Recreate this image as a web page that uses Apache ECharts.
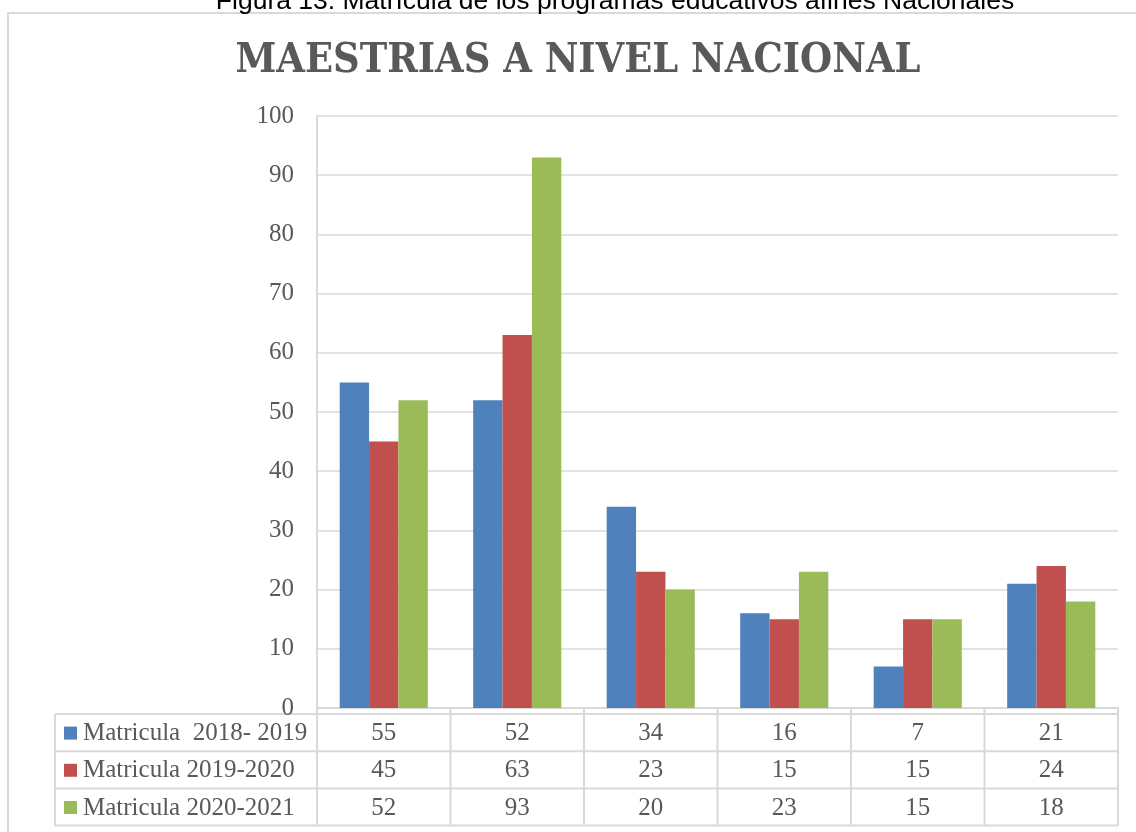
<!DOCTYPE html>
<html>
<head>
<meta charset="utf-8">
<script src="https://cdn.jsdelivr.net/npm/echarts@6/dist/echarts.min.js"></script>
<style>
  html, body { margin: 0; padding: 0; background: #fff; }
  #main { width: 1136px; height: 832px; }
</style>
</head>
<body>
<div id="main"></div>
<script>
// 数据
const categories = ['1', '2', '3', '4', '5', '6']
const seriesNames = ['Matricula  2018- 2019', 'Matricula 2019-2020', 'Matricula 2020-2021']
const m2018 = [55, 52, 34, 16, 7, 21]
const m2019 = [45, 63, 23, 15, 15, 24]
const m2020 = [52, 93, 20, 23, 15, 18]
const yTicks = [0, 10, 20, 30, 40, 50, 60, 70, 80, 90, 100]

const seriesData = [m2018, m2019, m2020]
const colors = ['#4F81BD', '#C0504D', '#9BBB59']
const textColor = '#595959'
const lineColor = '#d9d9d9'
const serif = '"Liberation Serif", "DejaVu Serif", serif'
const titleFont = '"DejaVu Serif Condensed", "DejaVu Serif", serif'

const myChart = echarts.init(document.querySelector('#main'))

const option = {
  animation: false,
  grid: {
    left: 317,
    right: 18,
    top: 116,
    bottom: 124
  },
  xAxis: {
    type: 'category',
    data: categories,
    axisLine: { lineStyle: { color: lineColor, width: 2 } },
    axisTick: { show: false },
    axisLabel: { show: false }
  },
  yAxis: {
    type: 'value',
    min: yTicks[0],
    max: yTicks[yTicks.length - 1],
    interval: yTicks[1] - yTicks[0],
    axisLine: { show: true, lineStyle: { color: lineColor, width: 2 } },
    axisTick: { show: false },
    splitLine: { lineStyle: { color: lineColor, width: 1.5 } },
    axisLabel: {
      color: textColor,
      fontFamily: serif,
      fontSize: 25,
      margin: 23
    }
  },
  series: seriesData.map((data, i) => ({
    name: seriesNames[i],
    type: 'bar',
    data: data,
    barGap: 0,
    barCategoryGap: '34%',
    itemStyle: { color: colors[i] }
  }))
}

myChart.setOption(option)

// 画标题、外框和下方数据表
function drawTable() {
  const axisY = myChart.convertToPixel({ yAxisIndex: 0 }, 0)
  const c0 = myChart.convertToPixel({ xAxisIndex: 0 }, 0)
  const c1 = myChart.convertToPixel({ xAxisIndex: 0 }, 1)
  const band = c1 - c0
  const plotLeft = c0 - band / 2
  const plotRight = plotLeft + band * categories.length
  const tableLeft = 55
  const headTop = axisY
  const rowTop = axisY + 6
  const rowH = 37.2
  const tableBottom = rowTop + rowH * seriesNames.length

  const els = []
  const line = (x1, y1, x2, y2) => els.push({
    type: 'line',
    shape: { x1, y1, x2, y2 },
    style: { stroke: lineColor, lineWidth: 2 },
    silent: true
  })
  const text = (str, x, y, align, opts = {}) => els.push({
    type: 'text',
    style: Object.assign({
      text: str, x, y,
      font: '25px ' + serif,
      fill: textColor,
      align: align, textAlign: align,
      verticalAlign: 'middle', textVerticalAlign: 'middle'
    }, opts),
    silent: true
  })

  // 外框
  els.push({
    type: 'rect',
    shape: { x: 8, y: 13, width: 1140, height: 830 },
    style: { fill: null, stroke: lineColor, lineWidth: 2 },
    silent: true
  })
  // 顶部说明（被截掉一半）
  text('Figura 13. Matrícula de los programas educativos afines Nacionales', 615, 1.5, 'center', {
    font: '26.5px "Liberation Sans", Arial, sans-serif', fill: '#000'
  })
  // 图表标题
  text('MAESTRIAS A NIVEL NACIONAL', 578, 61, 'center', {
    font: 'bold 41px ' + titleFont, fill: textColor
  })

  // 表格横线
  line(plotLeft, headTop, plotRight, headTop)
  for (let r = 0; r <= seriesNames.length; r++) {
    const y = rowTop + rowH * r
    line(tableLeft, y, plotRight, y)
  }
  // 表格竖线
  line(tableLeft, rowTop, tableLeft, tableBottom)
  for (let c = 0; c <= categories.length; c++) {
    const x = plotLeft + band * c
    line(x, headTop, x, tableBottom)
  }
  // 图例和数值
  seriesNames.forEach((name, r) => {
    const cy = rowTop + rowH * r + rowH / 2 + 1
    els.push({
      type: 'rect',
      shape: { x: 64, y: cy - 7, width: 13, height: 13 },
      style: { fill: colors[r] },
      silent: true
    })
    text(name, 83, cy, 'left')
    seriesData[r].forEach((v, c) => {
      text(String(v), plotLeft + band * (c + 0.5), cy, 'center')
    })
  })

  myChart.setOption({ graphic: { elements: els } })
}

drawTable()
</script>
</body>
</html>
